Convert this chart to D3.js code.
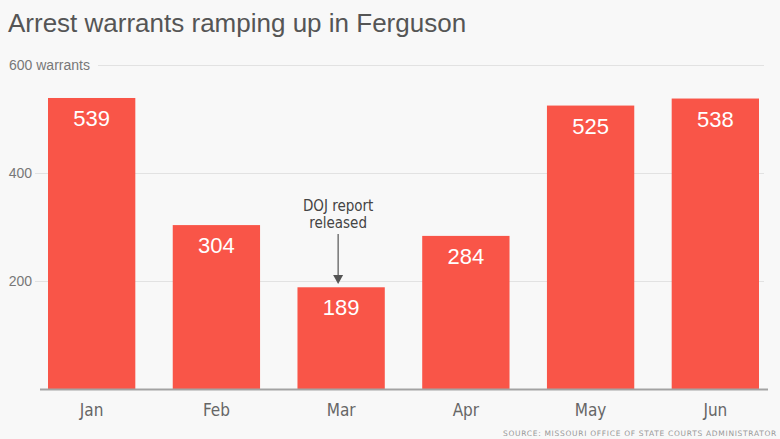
<!DOCTYPE html>
<html><head><meta charset="utf-8">
<script src="https://cdn.jsdelivr.net/npm/d3@7"></script>
<style>body{margin:0;background:#f8f8f8;}svg{display:block;}</style>
</head><body>
<svg id="c" width="780" height="439"></svg>
<script>
const months = ["Jan","Feb","Mar","Apr","May","Jun"];
const warrants = [539, 304, 189, 284, 525, 538];
const yTicks = [200, 400, 600];
const title = "Arrest warrants ramping up in Ferguson";
const annotation = ["DOJ report", "released"];
const annotatedMonth = "Mar";
const source = "SOURCE: MISSOURI OFFICE OF STATE COURTS ADMINISTRATOR";

const svg = d3.select("#c");
svg.append("rect").attr("width",780).attr("height",439).attr("fill","#f8f8f8");

const x = d3.scaleBand().domain(months).range([48, 759]).paddingInner(0.3).paddingOuter(0);
const y = d3.scaleLinear().domain([0, 600]).range([389.5, 65]);

svg.append("text").attr("x",8).attr("y",32).text(title)
  .attr("font-family","'Liberation Sans', Arial, sans-serif").attr("font-size",26)
  .attr("fill","#555");

// gridlines
yTicks.forEach(t=>{
  svg.append("line").attr("x1", t===600?98:35).attr("x2",764)
    .attr("y1",Math.round(y(t))+0.5).attr("y2",Math.round(y(t))+0.5)
    .attr("stroke","#e2e2e2").attr("stroke-width",1);
  svg.append("text").attr("x", t===600?9:32).attr("y", y(t)+5)
    .attr("text-anchor", t===600?"start":"end")
    .attr("font-family","'Liberation Sans', Arial, sans-serif").attr("font-size",14)
    .attr("fill","#777").text(t===600? t+" warrants" : t);
});

svg.selectAll("rect.bar").data(months).enter().append("rect").attr("class","bar")
  .attr("x",d=>x(d)).attr("width",x.bandwidth())
  .attr("y",(d,i)=>y(warrants[i])).attr("height",(d,i)=>y(0)-y(warrants[i]))
  .attr("fill","#f95548");

svg.selectAll("text.val").data(months).enter().append("text").attr("class","val")
  .attr("x",d=>x(d)+x.bandwidth()/2).attr("y",(d,i)=>y(warrants[i])+28)
  .attr("text-anchor","middle").attr("font-family","'Liberation Sans', Arial, sans-serif")
  .attr("font-size",22).attr("fill","#fff").text((d,i)=>warrants[i]);

// baseline
svg.append("line").attr("x1",40).attr("x2",768).attr("y1",y(0)).attr("y2",y(0))
  .attr("stroke","#a3a3a3").attr("stroke-width",2);

// month labels
svg.selectAll("text.mon").data(months).enter().append("text").attr("class","mon")
  .attr("x",d=>x(d)+x.bandwidth()/2).attr("y",416)
  .attr("text-anchor","middle")
  .attr("font-family","'Liberation Sans Narrow', 'DejaVu Sans Condensed', sans-serif")
  .attr("font-size",17).attr("fill","#666").text(d=>d);

// annotation
const ax = x(annotatedMonth)+x.bandwidth()/2 - 3;
annotation.forEach((s,i)=>{
  svg.append("text").attr("x",ax).attr("y",211+i*17).attr("text-anchor","middle")
    .attr("font-family","'Liberation Sans Narrow', 'DejaVu Sans Condensed', sans-serif")
    .attr("font-size",15).attr("fill","#444").text(s);
});
svg.append("line").attr("x1",ax).attr("x2",ax).attr("y1",234).attr("y2",276)
  .attr("stroke","#555").attr("stroke-width",1.2);
svg.append("path").attr("d",`M${ax-5},${275}L${ax+5},${275}L${ax},${284}Z`).attr("fill","#555");

svg.append("text").attr("x",777).attr("y",436).attr("text-anchor","end")
  .attr("font-family","'DejaVu Sans', sans-serif").attr("font-size",7.5)
  .attr("letter-spacing","0.7").attr("fill","#999").text(source);
</script>
</body></html>
